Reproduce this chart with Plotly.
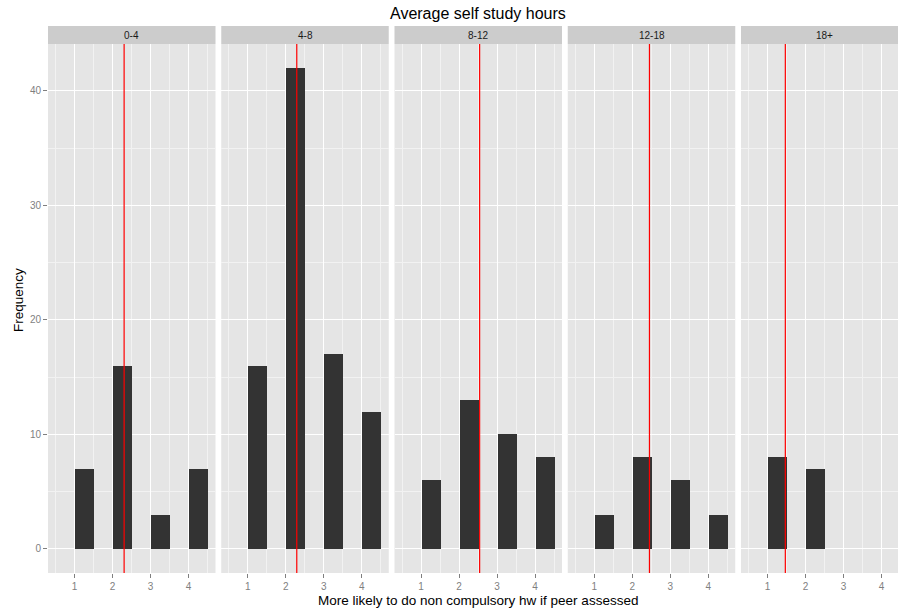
import plotly.graph_objects as go

# Responses on a 1-4 scale, counted per self-study-hours group
groups = ["0-4", "4-8", "8-12", "12-18", "18+"]
scores = [1, 2, 3, 4]
counts = {
    "0-4": [7, 16, 3, 7],
    "4-8": [16, 42, 17, 12],
    "8-12": [6, 13, 10, 8],
    "12-18": [3, 8, 6, 3],
    "18+": [8, 7, 0, 0],
}
y_ticks = [0, 10, 20, 30, 40]

W, H = 898, 611
ML, MR, MT, MB = 48, 0, 44, 38
plot_w = W - ML - MR
plot_h = H - MT - MB
panel_px = 167.5
gap_px = 5.75
px_per_unit = 38.0
x_lo = 0.3
strip_px = 18

PANEL_BG = "#E5E5E5"
STRIP_BG = "#CCCCCC"
BAR = "#333333"
TICK_GREY = "#7F7F7F"
FONT = "Liberation Sans, Arial, sans-serif"

fig = go.Figure()
layout = dict(
    width=W, height=H,
    margin=dict(l=ML, r=MR, t=MT, b=MB),
    paper_bgcolor="white",
    plot_bgcolor=PANEL_BG,
    showlegend=False,
    font=dict(family=FONT, color="#1A1A1A"),
    shapes=[], annotations=[],
    bargap=0,
)

for i, g in enumerate(groups):
    n = i + 1
    xa = "x" if n == 1 else f"x{n}"
    ya = "y" if n == 1 else f"y{n}"
    left = i * (panel_px + gap_px)
    right = min(left + panel_px, plot_w)
    d0, d1 = left / plot_w, right / plot_w
    x_hi = x_lo + (right - left) / px_per_unit

    fig.add_trace(go.Bar(
        x=scores, y=counts[g], width=0.5, offset=0,
        marker=dict(color=BAR, line=dict(width=0)),
        xaxis=xa, yaxis=ya, hoverinfo="x+y",
    ))

    total = sum(counts[g])
    mean = sum(s * c for s, c in zip(scores, counts[g])) / total

    layout["xaxis" if n == 1 else f"xaxis{n}"] = dict(
        domain=[d0, d1], range=[x_lo, x_hi], anchor=ya,
        tickvals=scores, ticktext=[str(s) for s in scores],
        ticks="outside", ticklen=4, tickwidth=1, tickcolor=TICK_GREY,
        tickfont=dict(size=10, color=TICK_GREY),
        showgrid=True, gridcolor="white", gridwidth=1.2,
        minor=dict(tickvals=[0.5, 1.5, 2.5, 3.5, 4.5], showgrid=True,
                   gridcolor="#F2F2F2", gridwidth=0.6, ticks=""),
        zeroline=False, showline=False, fixedrange=True,
    )
    layout["yaxis" if n == 1 else f"yaxis{n}"] = dict(
        domain=[0, 1], range=[-2.1, 44.1], anchor=xa,
        tickvals=y_ticks,
        ticks="outside" if n == 1 else "", ticklen=4, tickwidth=1,
        tickcolor=TICK_GREY,
        showticklabels=(n == 1),
        tickfont=dict(size=10, color=TICK_GREY),
        showgrid=True, gridcolor="white", gridwidth=1.2,
        minor=dict(tickvals=[5, 15, 25, 35], showgrid=True,
                   gridcolor="#F2F2F2", gridwidth=0.6, ticks=""),
        zeroline=False, showline=False, fixedrange=True,
    )

    # mean line for the group
    layout["shapes"].append(dict(
        type="line", xref=xa, yref=f"{ya} domain",
        x0=mean, x1=mean, y0=0, y1=1,
        line=dict(color="#FF0000", width=1.2), layer="above",
    ))

    # facet strip
    layout["shapes"].append(dict(
        type="rect", xref=f"{xa} domain", yref="paper",
        x0=0, x1=1, y0=1, y1=1 + strip_px / plot_h,
        fillcolor=STRIP_BG, line=dict(width=0), layer="below",
    ))
    full_center = (left + panel_px / 2) / plot_w
    layout["annotations"].append(dict(
        text=g, xref="paper", yref="paper",
        x=full_center, y=1 + strip_px / 2 / plot_h,
        xanchor="center", yanchor="middle", showarrow=False,
        font=dict(size=10, color="#1A1A1A"),
    ))

full_w = 5 * panel_px + 4 * gap_px
center = (full_w / 2) / plot_w

layout["annotations"] += [
    dict(text="Average self study hours", xref="paper", yref="paper",
         x=center, y=1 + 31 / plot_h, xanchor="center", yanchor="middle",
         showarrow=False, font=dict(size=16, color="#000000")),
    dict(text="More likely to do non compulsory hw if peer assessed",
         xref="paper", yref="paper", x=center, y=-27 / plot_h,
         xanchor="center", yanchor="middle", showarrow=False,
         font=dict(size=13.5, color="#000000")),
    dict(text="Frequency", xref="paper", yref="paper",
         x=-30 / plot_w, y=(573 - 300) / plot_h, xanchor="center",
         yanchor="middle", textangle=-90, showarrow=False,
         font=dict(size=13.5, color="#000000")),
]

fig.update_layout(**layout)
fig.write_html("out.html")
